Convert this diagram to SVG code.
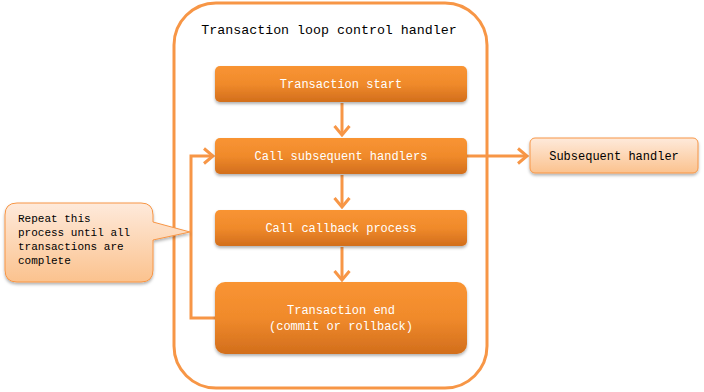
<svg xmlns="http://www.w3.org/2000/svg" width="704" height="392" viewBox="0 0 704 392">
  <style>
    .mono { font-family: "Liberation Mono", "DejaVu Sans Mono", monospace; }
    .step { fill: url(#stepFill); filter: url(#shadow); }
    .stepText { fill: #ffffff; font-size: 12px; text-anchor: middle; }
    .line { fill: none; stroke: #F79646; stroke-width: 3; }
    .soft { fill: url(#softFill); stroke: #F79646; stroke-width: 1; filter: url(#shadow); }
    .darkText { fill: #000000; }
  </style>
  <defs>
    <linearGradient id="stepFill" x1="0" y1="0" x2="0" y2="1">
      <stop offset="0" stop-color="#F99433"/>
      <stop offset="0.5" stop-color="#F08A2B"/>
      <stop offset="1" stop-color="#D26E1C"/>
    </linearGradient>
    <linearGradient id="softFill" x1="0" y1="0" x2="0" y2="1">
      <stop offset="0" stop-color="#FEEADB"/>
      <stop offset="1" stop-color="#FBC28E"/>
    </linearGradient>
    <filter id="shadow" x="-10%" y="-20%" width="120%" height="150%">
      <feDropShadow dx="0" dy="2" stdDeviation="1.5" flood-color="#000000" flood-opacity="0.3"/>
    </filter>
    <marker id="chevron" viewBox="0 0 14 18" refX="12" refY="9" markerWidth="14" markerHeight="18" markerUnits="userSpaceOnUse" orient="auto">
      <polyline points="3,1.5 12,9 3,16.5" fill="none" stroke="#F79646" stroke-width="3"/>
    </marker>
  </defs>

  <!-- container for the loop handler -->
  <g id="handler">
    <rect x="174" y="3" width="313" height="385" rx="42" ry="42" fill="#ffffff" stroke="#F79646" stroke-width="3"/>
    <text class="mono darkText" x="329" y="34" font-size="13.3" text-anchor="middle">Transaction loop control handler</text>
  </g>

  <!-- connectors -->
  <g id="connectors">
    <line class="line" x1="342" y1="103" x2="342" y2="135" marker-end="url(#chevron)"/>
    <line class="line" x1="342" y1="175" x2="342" y2="207" marker-end="url(#chevron)"/>
    <line class="line" x1="342" y1="247" x2="342" y2="280" marker-end="url(#chevron)"/>
    <polyline class="line" points="215,318 191,318 191,156 213,156" marker-end="url(#chevron)"/>
    <line class="line" x1="467" y1="156" x2="527" y2="156" marker-end="url(#chevron)"/>
  </g>

  <g id="start">
    <rect class="step" x="215" y="66" width="252" height="36" rx="5"/>
    <text class="mono stepText" x="341" y="88">Transaction start</text>
  </g>

  <g id="callHandlers">
    <rect class="step" x="215" y="138" width="252" height="36" rx="5"/>
    <text class="mono stepText" x="341" y="160">Call subsequent handlers</text>
  </g>

  <g id="callback">
    <rect class="step" x="215" y="210" width="252" height="36" rx="5"/>
    <text class="mono stepText" x="341" y="232">Call callback process</text>
  </g>

  <g id="end">
    <rect class="step" x="215" y="282" width="252" height="72" rx="10"/>
    <text class="mono stepText" x="341" y="314">Transaction end</text>
    <text class="mono stepText" x="341" y="330">(commit or rollback)</text>
  </g>

  <g id="subsequent">
    <rect class="soft" x="530" y="138" width="168" height="35" rx="5"/>
    <text class="mono darkText" x="614" y="160" font-size="12" text-anchor="middle">Subsequent handler</text>
  </g>

  <!-- callout explaining the loop -->
  <g id="note">
    <path class="soft" d="M17,203 H141 Q153,203 153,215 V222 L190,232 L153,240 V270 Q153,282 141,282 H17 Q5,282 5,270 V215 Q5,203 17,203 Z"/>
    <text class="mono darkText" font-size="11">
      <tspan x="18" y="222">Repeat this</tspan>
      <tspan x="18" y="236">process until all</tspan>
      <tspan x="18" y="250">transactions are</tspan>
      <tspan x="18" y="264">complete</tspan>
    </text>
  </g>
</svg>
